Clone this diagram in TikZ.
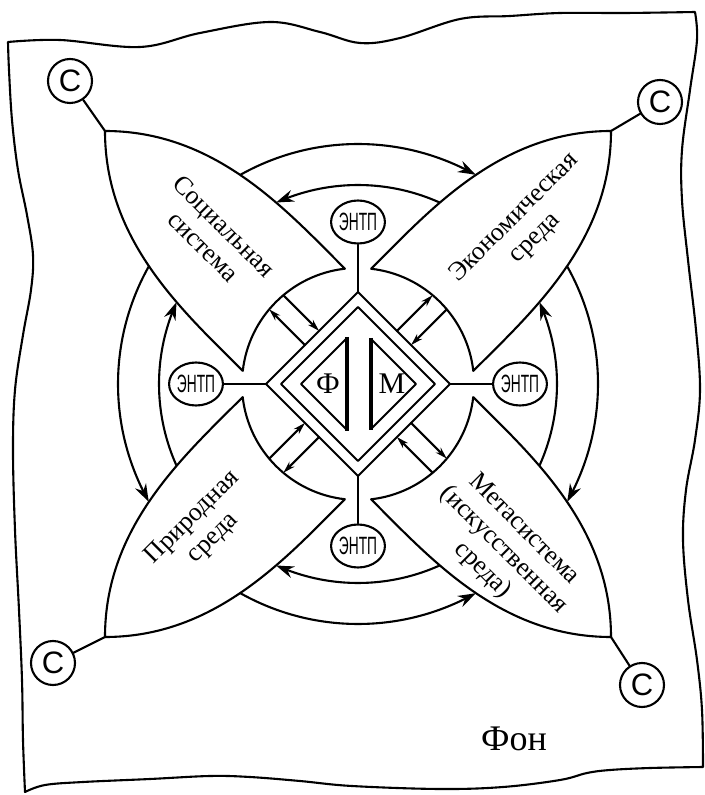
\documentclass[tikz,border=0pt]{standalone}
\usepackage{fontspec}
\usepackage{graphicx}
\setmainfont{Liberation Serif}
\newfontfamily\csans{Liberation Sans}
\usetikzlibrary{arrows.meta,shapes.geometric,bending}
\begin{document}
\begin{tikzpicture}[x=1pt, y=1pt, line width=2.1pt, line join=round, line cap=round,
  petal/.style={draw, fill=white},
  bigtip/.style={-{Stealth[length=18pt,width=12pt,bend]}},
  smalltip/.style={-{Stealth[length=12pt,width=7pt]}},
  entp/.style={ellipse, draw, fill=white, minimum width=46pt, minimum height=43pt, inner sep=0pt},
  cnode/.style={circle, draw, fill=white, minimum size=44pt, inner sep=0pt,
    font=\csans\fontsize{31}{31}\selectfont},
  lbl/.style={font=\fontsize{26}{29}\selectfont, align=center, inner sep=0pt},
  letter/.style={font=\fontsize{30}{30}\selectfont, inner sep=0pt}
]
\useasboundingbox (-358,-411) rectangle (346,384);

% wavy background frame (screen coordinates)
\begin{scope}[shift={(-358,384)}, yscale=-1]
\draw plot[smooth, tension=.6] coordinates {(8,42) (60,40) (140,47) (200,33) (270,22) (320,32) (360,43) (400,38) (460,19) (510,16) (560,13) (625,13) (695,12)}
 -- plot[smooth, tension=.6] coordinates {(695,12) (697,40) (690,90) (682,150) (682,200) (688,260) (696,330) (700,390) (695,440) (686,490) (683,540) (688,600) (697,660) (702,710) (703,767)}
 -- plot[smooth, tension=.6] coordinates {(703,767) (650,768) (610,770) (587,773) (560,780) (503,787) (440,789) (352,786) (300,781) (250,777) (210,776) (150,779) (83,782) (45,785) (25,792)}
 -- plot[smooth, tension=.6] coordinates {(25,792) (23,740) (22,680) (19,610) (15,530) (13,450) (15,390) (23,335) (31,290) (33,255) (27,215) (18,170) (12,120) (9,70) (8,42)}
 -- cycle;
\end{scope}

% ring arrows: outer (r=240) and inner (r=199)
\draw[bigtip] (119.4:240) arc[start angle=119.4, end angle=60.6, radius=240];
\draw[bigtip] (29.4:240) arc[start angle=29.4, end angle=-29.4, radius=240];
\draw[bigtip] (240.6:240) arc[start angle=240.6, end angle=299.4, radius=240];
\draw[bigtip] (150.6:240) arc[start angle=150.6, end angle=209.4, radius=240];
\draw[bigtip] (65.7:199) arc[start angle=65.7, end angle=114.3, radius=199];
\draw[bigtip] (-24.3:199) arc[start angle=-24.3, end angle=24.3, radius=199];
\draw[bigtip] (294.3:199) arc[start angle=294.3, end angle=245.7, radius=199];
\draw[bigtip] (204.3:199) arc[start angle=204.3, end angle=155.7, radius=199];

% petals
\foreach \r/\n in {0/s, -90/e, 180/m, 90/p} {
  \begin{scope}[rotate=\r]
    \draw[petal] (-253,253) .. controls (-143,253) and (-73.1,175.3) .. (-13.1,115.3)
      arc[start angle=96.5, end angle=173.5, radius=116]
      .. controls (-175.3,73.1) and (-253,143) .. (-253,253) -- cycle;
    \coordinate (T\n) at (-253,253);
  \end{scope}
}

% C circles
\node[cnode] (cs) at (-288,303) {С};
\node[cnode] (ce) at (302,282) {С};
\node[cnode] (cm) at (284,-301) {С};
\node[cnode] (cp) at (-305,-279) {С};
\draw (Ts) -- (cs);
\draw (Te) -- (ce);
\draw (Tm) -- (cm);
\draw (Tp) -- (cp);

% diamond
\coordinate (dt) at (0,92);
\coordinate (dr) at (92,0);
\coordinate (db) at (0,-92);
\coordinate (dl) at (-92,0);
\draw (dt) -- (dr) -- (db) -- (dl) -- cycle;
\draw (0,77) -- (77,0) -- (0,-77) -- (-77,0) -- cycle;
\draw (-11,46) -- (-57,0) -- (-11,-46);
\draw[line width=3.4pt, line cap=butt] (-11,47) -- (-11,-47);
\draw (13,45) -- (58,0) -- (13,-45);
\draw[line width=3.4pt, line cap=butt] (13,46) -- (13,-46);
\node[letter] (lf) at (-30,0) {Ф};
\node[letter] (lm) at (34,0) {М};

% ENTP nodes
\newcommand\entptext{\scalebox{0.55}[1]{\csans\fontsize{25}{25}\selectfont ЭНТП}}
\node[entp] (et) at (0,162) {\entptext};
\node[entp] (er) at (162,0) {\entptext};
\node[entp] (eb) at (0,-162) {\entptext};
\node[entp] (el) at (-162,0) {\entptext};
\draw (et) -- (dt);
\draw (er) -- (dr);
\draw (eb) -- (db);
\draw (el) -- (dl);

% small exchange arrows between diamond and petals
\foreach \a in {135,45,-45,225} {
  \begin{scope}[rotate=\a]
    \draw[smalltip] (65.1,10) -- (115.5,10);
    \draw[smalltip] (115.5,-10) -- (65.1,-10);
  \end{scope}
}

% labels
\node[lbl, rotate=-45] (ls) at (-144,148) {Социальная\\система};
\node[lbl, rotate=45] (le) at (167,156) {Экономическая\\среда};
\node[lbl, rotate=45] (lp) at (-155,-144) {Природная\\среда};
\node[lbl, rotate=-45] (lmeta) at (145,-166) {Метасистема\\(искусственная\\среда)};
\node[font=\fontsize{36}{36}\selectfont, inner sep=0pt] (fon) at (156,-355) {Фон};
\end{tikzpicture}
\end{document}
